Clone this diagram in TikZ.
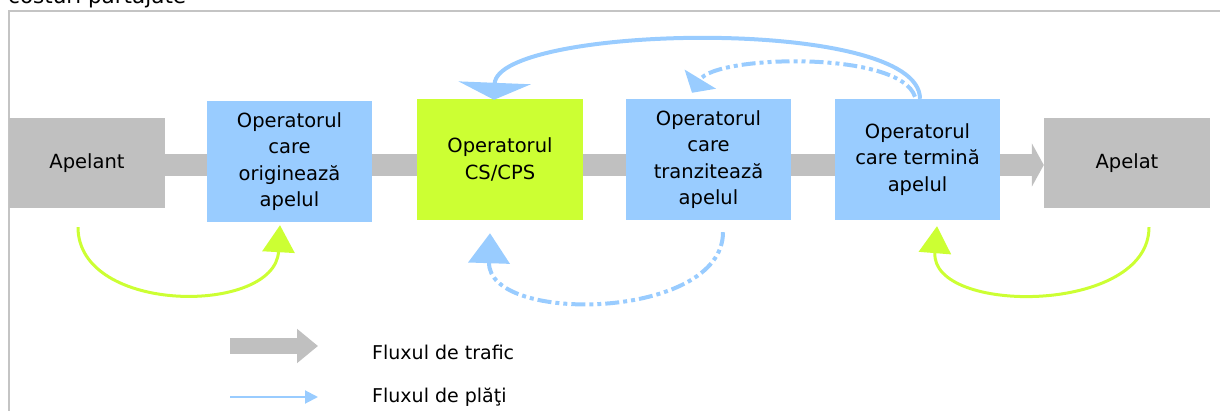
\documentclass[tikz,border=0pt]{standalone}
\usepackage{fontspec}
\setmainfont{DejaVu Sans}
\usetikzlibrary{arrows.meta,calc,backgrounds}
\definecolor{boxblue}{HTML}{99CCFF}
\definecolor{boxgreen}{HTML}{CCFF33}
\definecolor{boxgray}{HTML}{C0C0C0}
\definecolor{framegray}{HTML}{C4C4C4}
\tikzset{
  box/.style={draw=none, inner sep=0pt, align=center, font=\fontsize{19.5}{26.5}\selectfont},
  bluebox/.style={box, fill=boxblue, minimum width=165pt, minimum height=121pt},
  greenbox/.style={box, fill=boxgreen, minimum width=166pt, minimum height=121pt},
  graybox/.style={box, fill=boxgray, minimum width=156pt, minimum height=90pt},
  band/.style={draw=boxgray, line width=22pt, -{Triangle[width=43pt,length=12pt]}},
  greenarc/.style={draw=boxgreen, line width=3pt, -{Triangle[width=32pt,length=27pt]}},
  bluearc/.style={draw=boxblue, line width=4pt},
  dashdots/.style={dash pattern=on 14pt off 4pt on 4pt off 4pt on 4pt off 4pt},
  legtext/.style={anchor=west, inner sep=0pt, font=\fontsize{19}{23}\selectfont}
}
\begin{document}
\begin{tikzpicture}[x=1pt,y=-1pt]
\useasboundingbox (0,0) rectangle (1220,411);
\begin{scope}
\clip (0,0) rectangle (1220,411);
% title (cut at the top)
\node[anchor=base west, inner sep=0pt, font=\fontsize{21.5}{24}\selectfont] (title) at (8,4) {costuri partajate};
% frame
\draw[framegray, line width=2pt] (9,430) -- (9,11) -- (1240,11);
\end{scope}

% boxes
\node[graybox, minimum width=156pt] (apelant) at (87,163) {Apelant};
\node[bluebox] (orig) at (289.5,161.5) {Operatorul\\care\\originează\\apelul};
\node[greenbox] (cs) at (500,159.5) {Operatorul\\CS/CPS};
\node[bluebox] (tranz) at (708.5,159.5) {Operatorul\\care\\tranzitează\\apelul};
\node[bluebox] (term) at (917.5,159.5) {Operatorul\\care termină\\apelul};
\node[graybox, minimum width=166pt] (apelat) at (1127,163) {Apelat};

% traffic band behind the boxes
\begin{scope}[on background layer]
\draw[band] ($(apelant.east)+(0,2)$) -- ($(apelat.west)+(0,2)$);
\end{scope}

% green payment arcs
\draw[greenarc] ($(apelant.south)+(-9,19)$) .. controls (78,315) and (275,315) .. ($(orig.south)+(-9.5,3)$);
\draw[greenarc] ($(apelat.south)+(22,19)$) .. controls (1149,315) and (930,315) .. ($(term.south)+(19.5,6)$);

% blue payment arcs
\draw[bluearc, -{Triangle[width=72pt,length=17pt]}] ($(term.north)+(2.5,0)$) .. controls (920,15) and (497,25) .. ($(cs.north)+(-6,1)$);
\draw[bluearc, dashdots, -{Triangle[width=36pt,length=16pt]}] ($(term.north)+(-2.5,-2)$) .. controls (900,50) and (715,55) .. ($(tranz.north)+(-16.5,-6)$);
\draw[bluearc, dashdots, -{Triangle[width=41pt,length=30pt]}] ($(tranz.south)+(14.5,12)$) .. controls (723,320) and (487,325) .. ($(cs.south)+(-10,13)$);

% legend
\coordinate (lga) at (230,346);
\coordinate (lgb) at (318,346);
\draw[draw=boxgray, line width=16pt, -{Triangle[width=33pt,length=21pt]}] (lga) -- (lgb);
\node[legtext] (lt1) at (372,352) {Fluxul de trafic};
\coordinate (lgc) at (230,397);
\coordinate (lgd) at (318,397);
\draw[draw=boxblue, line width=2pt, -{Triangle[width=13pt,length=13pt]}] (lgc) -- (lgd);
\node[legtext] (lt2) at (372,397) {Fluxul de plăţi};
\end{tikzpicture}
\end{document}
